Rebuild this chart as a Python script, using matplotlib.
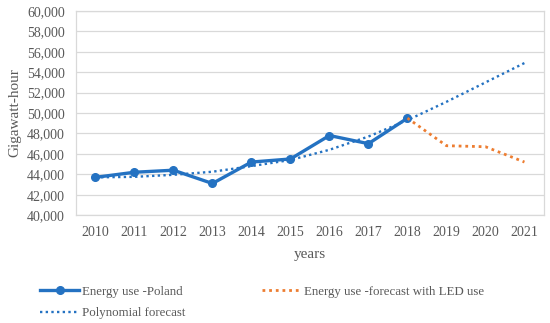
import numpy as np
from matplotlib import pyplot as plt

years = ["2010", "2011", "2012", "2013", "2014", "2015",
         "2016", "2017", "2018", "2019", "2020", "2021"]
energy_poland = [43700, 44200, 44400, 43100, 45200, 45500, 47800, 47000, 49500]
led_years = ["2018", "2019", "2020", "2021"]
energy_led = [49500, 46800, 46700, 45200]
poly_forecast = [43700, 43750, 43950, 44250, 44800, 45400,
                 46400, 47700, 49300, 51100, 53000, 54900]

plt.rcParams["font.family"] = ["Liberation Serif", "DejaVu Serif"]
text_col = "#595959"
grid_col = "#d9d9d9"
blue = "#2472c2"
orange = "#ed7d31"

fig = plt.figure(figsize=(5.5, 3.23), dpi=100)
ax = fig.add_axes([0.138, 0.334, 0.851, 0.632])

x = np.arange(len(years))
x_led = [years.index(y) for y in led_years]

l1, = ax.plot(x[:len(energy_poland)], energy_poland, color=blue, lw=2.4,
              marker="o", markersize=5.5, zorder=3, label="Energy use -Poland")
l2, = ax.plot(x_led, energy_led, color=orange, lw=2.0,
              linestyle=(0, (1, 1.4)), zorder=4,
              label="Energy use -forecast with LED use")
l3, = ax.plot(x, poly_forecast, color=blue, lw=1.7,
              linestyle=(0, (1, 1.4)), zorder=5, label="Polynomial forecast")

ax.set_xlim(-0.5, len(years) - 0.5)
ax.set_ylim(40000, 60000)
ax.set_yticks(np.arange(40000, 60001, 2000))
ax.set_yticklabels([f"{v:,}" for v in range(40000, 60001, 2000)])
ax.set_xticks(x)
ax.set_xticklabels(years)
ax.tick_params(length=0, labelsize=10, labelcolor=text_col, pad=8)
ax.grid(axis="y", color=grid_col, lw=0.9)
ax.set_axisbelow(True)
for s in ax.spines.values():
    s.set_color(grid_col)
    s.set_linewidth(0.9)

ax.set_ylabel("Gigawatt-hour", fontsize=11, color=text_col, labelpad=4)
ax.set_xlabel("years", fontsize=11, color=text_col, labelpad=6)

leg = fig.legend(handles=[l1, l3, l2], ncol=2, loc="lower left",
                 bbox_to_anchor=(0.057, -0.016), frameon=False, fontsize=9.3,
                 handlelength=3.0, handletextpad=0.25, columnspacing=5.9,
                 labelspacing=0.73, borderpad=0.2)
for t in leg.get_texts():
    t.set_color(text_col)

fig.savefig("out.png", dpi=100)
